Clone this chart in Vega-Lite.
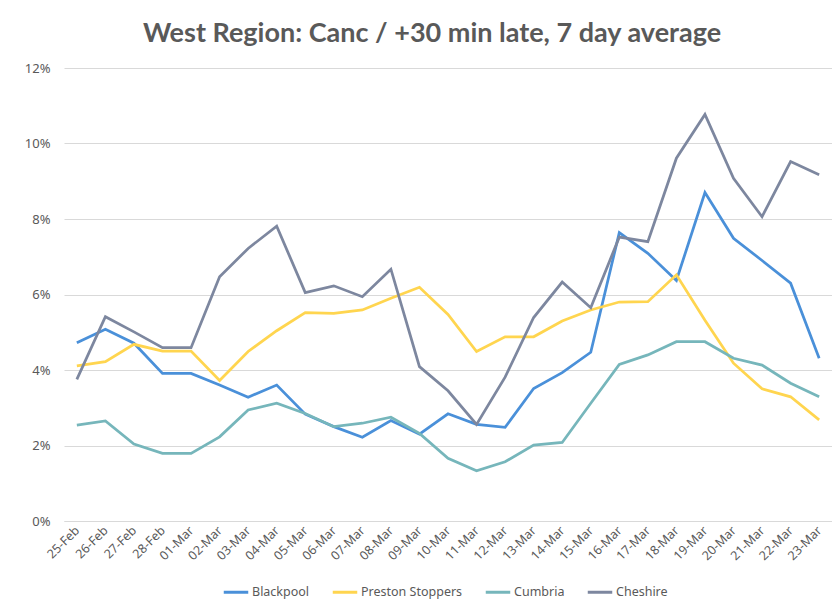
{
  "$schema": "https://vega.github.io/schema/vega-lite/v6.json",
  "autosize": {"type": "none"},
  "width": 768,
  "height": 453,
  "padding": {"left": 64, "top": 68, "right": 0, "bottom": 87},
  "background": "white",
  "title": {
    "text": "West Region: Canc / +30 min late, 7 day average",
    "font": "Lato",
    "fontSize": 27,
    "fontWeight": "bold",
    "color": "#595959",
    "anchor": "middle",
    "dx": -16,
    "offset": 14
  },
  "data": {"values": [
    {"date":"25-Feb","series":"Blackpool","value":4.72},
    {"date":"26-Feb","series":"Blackpool","value":5.08},
    {"date":"27-Feb","series":"Blackpool","value":4.71},
    {"date":"28-Feb","series":"Blackpool","value":3.91},
    {"date":"01-Mar","series":"Blackpool","value":3.91},
    {"date":"02-Mar","series":"Blackpool","value":3.60},
    {"date":"03-Mar","series":"Blackpool","value":3.28},
    {"date":"04-Mar","series":"Blackpool","value":3.60},
    {"date":"05-Mar","series":"Blackpool","value":2.83},
    {"date":"06-Mar","series":"Blackpool","value":2.50},
    {"date":"07-Mar","series":"Blackpool","value":2.22},
    {"date":"08-Mar","series":"Blackpool","value":2.66},
    {"date":"09-Mar","series":"Blackpool","value":2.30},
    {"date":"10-Mar","series":"Blackpool","value":2.84},
    {"date":"11-Mar","series":"Blackpool","value":2.56},
    {"date":"12-Mar","series":"Blackpool","value":2.48},
    {"date":"13-Mar","series":"Blackpool","value":3.51},
    {"date":"14-Mar","series":"Blackpool","value":3.93},
    {"date":"15-Mar","series":"Blackpool","value":4.47},
    {"date":"16-Mar","series":"Blackpool","value":7.64},
    {"date":"17-Mar","series":"Blackpool","value":7.09},
    {"date":"18-Mar","series":"Blackpool","value":6.37},
    {"date":"19-Mar","series":"Blackpool","value":8.70},
    {"date":"20-Mar","series":"Blackpool","value":7.49},
    {"date":"21-Mar","series":"Blackpool","value":6.90},
    {"date":"22-Mar","series":"Blackpool","value":6.30},
    {"date":"23-Mar","series":"Blackpool","value":4.31},
    {"date":"25-Feb","series":"Preston Stoppers","value":4.11},
    {"date":"26-Feb","series":"Preston Stoppers","value":4.22},
    {"date":"27-Feb","series":"Preston Stoppers","value":4.68},
    {"date":"28-Feb","series":"Preston Stoppers","value":4.50},
    {"date":"01-Mar","series":"Preston Stoppers","value":4.50},
    {"date":"02-Mar","series":"Preston Stoppers","value":3.72},
    {"date":"03-Mar","series":"Preston Stoppers","value":4.49},
    {"date":"04-Mar","series":"Preston Stoppers","value":5.04},
    {"date":"05-Mar","series":"Preston Stoppers","value":5.52},
    {"date":"06-Mar","series":"Preston Stoppers","value":5.50},
    {"date":"07-Mar","series":"Preston Stoppers","value":5.59},
    {"date":"08-Mar","series":"Preston Stoppers","value":5.90},
    {"date":"09-Mar","series":"Preston Stoppers","value":6.19},
    {"date":"10-Mar","series":"Preston Stoppers","value":5.47},
    {"date":"11-Mar","series":"Preston Stoppers","value":4.49},
    {"date":"12-Mar","series":"Preston Stoppers","value":4.88},
    {"date":"13-Mar","series":"Preston Stoppers","value":4.88},
    {"date":"14-Mar","series":"Preston Stoppers","value":5.30},
    {"date":"15-Mar","series":"Preston Stoppers","value":5.59},
    {"date":"16-Mar","series":"Preston Stoppers","value":5.80},
    {"date":"17-Mar","series":"Preston Stoppers","value":5.81},
    {"date":"18-Mar","series":"Preston Stoppers","value":6.52},
    {"date":"19-Mar","series":"Preston Stoppers","value":5.32},
    {"date":"20-Mar","series":"Preston Stoppers","value":4.18},
    {"date":"21-Mar","series":"Preston Stoppers","value":3.50},
    {"date":"22-Mar","series":"Preston Stoppers","value":3.29},
    {"date":"23-Mar","series":"Preston Stoppers","value":2.68},
    {"date":"25-Feb","series":"Cumbria","value":2.54},
    {"date":"26-Feb","series":"Cumbria","value":2.65},
    {"date":"27-Feb","series":"Cumbria","value":2.04},
    {"date":"28-Feb","series":"Cumbria","value":1.79},
    {"date":"01-Mar","series":"Cumbria","value":1.79},
    {"date":"02-Mar","series":"Cumbria","value":2.23},
    {"date":"03-Mar","series":"Cumbria","value":2.94},
    {"date":"04-Mar","series":"Cumbria","value":3.12},
    {"date":"05-Mar","series":"Cumbria","value":2.85},
    {"date":"06-Mar","series":"Cumbria","value":2.50},
    {"date":"07-Mar","series":"Cumbria","value":2.59},
    {"date":"08-Mar","series":"Cumbria","value":2.75},
    {"date":"09-Mar","series":"Cumbria","value":2.32},
    {"date":"10-Mar","series":"Cumbria","value":1.66},
    {"date":"11-Mar","series":"Cumbria","value":1.33},
    {"date":"12-Mar","series":"Cumbria","value":1.57},
    {"date":"13-Mar","series":"Cumbria","value":2.01},
    {"date":"14-Mar","series":"Cumbria","value":2.08},
    {"date":"15-Mar","series":"Cumbria","value":3.12},
    {"date":"16-Mar","series":"Cumbria","value":4.15},
    {"date":"17-Mar","series":"Cumbria","value":4.40},
    {"date":"18-Mar","series":"Cumbria","value":4.75},
    {"date":"19-Mar","series":"Cumbria","value":4.75},
    {"date":"20-Mar","series":"Cumbria","value":4.31},
    {"date":"21-Mar","series":"Cumbria","value":4.13},
    {"date":"22-Mar","series":"Cumbria","value":3.65},
    {"date":"23-Mar","series":"Cumbria","value":3.29},
    {"date":"25-Feb","series":"Cheshire","value":3.75},
    {"date":"26-Feb","series":"Cheshire","value":5.41},
    {"date":"27-Feb","series":"Cheshire","value":5.01},
    {"date":"28-Feb","series":"Cheshire","value":4.59},
    {"date":"01-Mar","series":"Cheshire","value":4.59},
    {"date":"02-Mar","series":"Cheshire","value":6.47},
    {"date":"03-Mar","series":"Cheshire","value":7.22},
    {"date":"04-Mar","series":"Cheshire","value":7.81},
    {"date":"05-Mar","series":"Cheshire","value":6.05},
    {"date":"06-Mar","series":"Cheshire","value":6.23},
    {"date":"07-Mar","series":"Cheshire","value":5.94},
    {"date":"08-Mar","series":"Cheshire","value":6.67},
    {"date":"09-Mar","series":"Cheshire","value":4.09},
    {"date":"10-Mar","series":"Cheshire","value":3.45},
    {"date":"11-Mar","series":"Cheshire","value":2.56},
    {"date":"12-Mar","series":"Cheshire","value":3.81},
    {"date":"13-Mar","series":"Cheshire","value":5.39},
    {"date":"14-Mar","series":"Cheshire","value":6.33},
    {"date":"15-Mar","series":"Cheshire","value":5.65},
    {"date":"16-Mar","series":"Cheshire","value":7.52},
    {"date":"17-Mar","series":"Cheshire","value":7.40},
    {"date":"18-Mar","series":"Cheshire","value":9.61},
    {"date":"19-Mar","series":"Cheshire","value":10.77},
    {"date":"20-Mar","series":"Cheshire","value":9.08},
    {"date":"21-Mar","series":"Cheshire","value":8.06},
    {"date":"22-Mar","series":"Cheshire","value":9.52},
    {"date":"23-Mar","series":"Cheshire","value":9.17}
  ]},
  "mark": {"type": "line", "strokeWidth": 2.75, "strokeJoin": "miter", "strokeCap": "butt"},
  "encoding": {
    "x": {
      "field": "date",
      "type": "ordinal",
      "sort": null,
      "scale": {"type": "point", "padding": 0.45},
      "axis": {
        "title": null,
        "labelAngle": -45,
        "labelAlign": "right",
        "labelBaseline": "middle",
        "labelPadding": 7,
        "ticks": false,
        "domainColor": "#d9d9d9",
        "domainWidth": 1,
        "grid": false,
        "labelFont": "Noto Sans",
        "labelFontSize": 12.5,
        "labelColor": "#595959"
      }
    },
    "y": {
      "field": "value",
      "type": "quantitative",
      "scale": {"domain": [0, 12], "nice": false},
      "axis": {
        "title": null,
        "values": [0, 2, 4, 6, 8, 10, 12],
        "labelExpr": "datum.value + '%'",
        "domain": false,
        "ticks": false,
        "labelPadding": 14,
        "gridColor": "#d9d9d9",
        "gridWidth": 1,
        "labelFont": "Noto Sans",
        "labelFontSize": 13,
        "labelColor": "#595959"
      }
    },
    "color": {
      "field": "series",
      "type": "nominal",
      "scale": {
        "domain": ["Blackpool", "Preston Stoppers", "Cumbria", "Cheshire"],
        "range": ["#4a90d9", "#ffd54f", "#76b6bb", "#7d879f"]
      },
      "legend": {
        "title": null,
        "orient": "none",
        "direction": "horizontal",
        "legendX": 158,
        "legendY": 510,
        "symbolType": "stroke",
        "symbolSize": 600,
        "symbolStrokeWidth": 3,
        "columnPadding": 16,
        "labelFont": "Noto Sans",
        "labelFontSize": 12.5,
        "labelColor": "#595959",
        "labelOffset": 2
      }
    }
  },
  "config": {"view": {"stroke": null}}
}
